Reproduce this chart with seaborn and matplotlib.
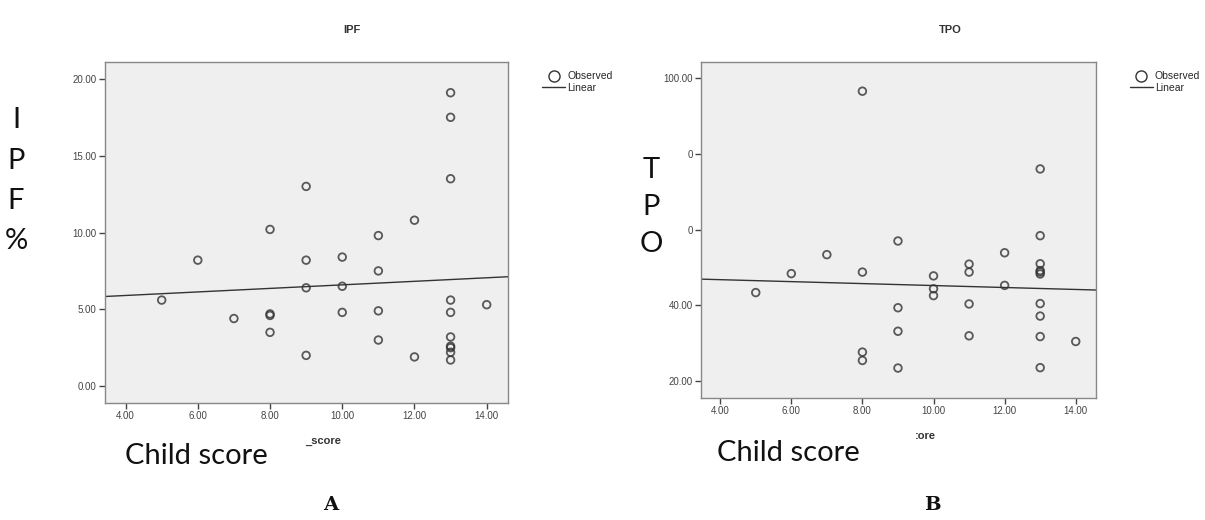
import matplotlib
matplotlib.use("Agg")
import matplotlib.pyplot as plt
from matplotlib.lines import Line2D
import numpy as np
import pandas as pd
import seaborn as sns

# ---- data ----
child_score = [5, 6, 7,
               8, 8, 8, 8,
               9, 9, 9, 9,
               10, 10, 10,
               11, 11, 11, 11,
               12, 12,
               13, 13, 13, 13, 13, 13, 13, 13, 13, 13,
               14]
ipf = [5.6, 8.2, 4.4,
       10.2, 4.7, 4.6, 3.5,
       13.0, 8.2, 6.4, 2.0,
       8.4, 6.5, 4.8,
       9.8, 7.5, 4.9, 3.0,
       10.8, 1.9,
       19.1, 17.5, 13.5, 5.6, 4.8, 3.2, 2.6, 2.5, 2.2, 1.7,
       5.3]
tpo = [43.4, 48.4, 53.4,
       96.5, 48.8, 27.7, 25.5,
       57.0, 39.4, 33.2, 23.5,
       47.8, 44.4, 42.6,
       50.9, 48.8, 40.4, 32.0,
       53.9, 45.3,
       76.0, 58.4, 51.0, 49.2, 48.8, 48.3, 40.5, 37.2, 31.8, 23.6,
       30.5]

x_ticks = [4, 6, 8, 10, 12, 14]
ipf_ticks = [0, 5, 10, 15, 20]
tpo_ticks = [20, 40, 60, 80, 100]
tpo_tick_labels = ["20.00", "40.00", "0", "0", "100.00"]

df = pd.DataFrame({"child_score": child_score, "ipf": ipf, "tpo": tpo})

sns.set_theme(style="white")
plt.rcParams["font.family"] = ["Liberation Sans", "DejaVu Sans"]

W, H = 1205, 520
fig = plt.figure(figsize=(W / 100, H / 100), dpi=100)

def px_axes(l, t, r, b):
    return fig.add_axes([l / W, 1 - b / H, (r - l) / W, (b - t) / H])

axA = px_axes(105, 62, 508, 403)
axB = px_axes(701, 62, 1096, 398)

ink = "#333333"
panels = [
    (axA, "ipf", (3.43, 14.59), (-1.1, 21.1), ipf_ticks, [f"{v:.2f}" for v in ipf_ticks]),
    (axB, "tpo", (3.46, 14.57), (15.6, 104.2), tpo_ticks, tpo_tick_labels),
]
for ax, col, xl, yl, yt, ytl in panels:
    ax.set_facecolor("#efefef")
    ax.set_xlim(*xl)
    ax.set_ylim(*yl)
    sns.regplot(data=df, x="child_score", y=col, ax=ax, ci=None, truncate=False,
                scatter_kws=dict(s=30, facecolors="none", edgecolors=ink, linewidths=1.3),
                line_kws=dict(color=ink, lw=1.0))
    ax.set_xlim(*xl)
    ax.set_ylim(*yl)
    ax.set_xticks(x_ticks)
    ax.set_xticklabels([f"{v:.2f}" for v in x_ticks])
    ax.set_yticks(yt)
    ax.set_yticklabels(ytl)
    ax.tick_params(axis="both", labelsize=7, colors="#444444", length=4, width=1,
                   direction="out", pad=2)
    ax.tick_params(axis="both", which="both", bottom=True, left=True)
    for s in ax.spines.values():
        s.set_color("#888888")
        s.set_linewidth(1.0)
    ax.set_xlabel("")
    ax.set_ylabel("")
    handles = [Line2D([], [], marker="o", ls="none", mfc="none", mec=ink, ms=8, mew=1),
               Line2D([], [], color=ink, lw=1)]
    ax.legend(handles, ["Observed", "Linear"], loc="upper left",
              bbox_to_anchor=(1.075, 0.985), frameon=False, fontsize=7.5,
              handlelength=2.2, handletextpad=0.2, labelspacing=0.15, borderaxespad=0)

# titles
fig.text(352 / W, 1 - 30 / H, "IPF", ha="center", va="center", fontsize=8,
         fontweight="bold", color="#333333")
fig.text(950 / W, 1 - 30 / H, "TPO", ha="center", va="center", fontsize=8,
         fontweight="bold", color="#333333")

# axis name fragments
fig.text(323 / W, 1 - 441 / H, "_score", ha="center", va="center", fontsize=8,
         fontweight="bold", color="#333333")
fig.text(925 / W, 1 - 436 / H, ":ore", ha="center", va="center", fontsize=8,
         fontweight="bold", color="#333333")

big = dict(fontsize=21, color="#111111", family=["Lato", "DejaVu Sans"], va="center")
for ch, yy in zip(["I", "P", "F", "%"], [120, 161, 201, 241]):
    fig.text(16 / W, 1 - yy / H, ch, ha="center", **big)
for ch, yy in zip(["T", "P", "O"], [170, 207, 244]):
    fig.text(651 / W, 1 - yy / H, ch, ha="center", **big)
fig.text(125 / W, 1 - 456 / H, "Child score", ha="left", **big)
fig.text(717 / W, 1 - 453 / H, "Child score", ha="left", **big)

fig.text(331 / W, 1 - 505 / H, "A", ha="center", va="center", fontsize=14,
         fontweight="bold", family="DejaVu Serif", color="#111111")
fig.text(932 / W, 1 - 505 / H, "B", ha="center", va="center", fontsize=14,
         fontweight="bold", family="DejaVu Serif", color="#111111")

fig.savefig("out.png", dpi=100)
